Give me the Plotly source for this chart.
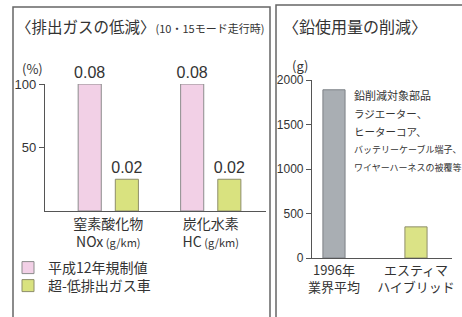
import plotly.graph_objects as go

W, H = 462, 317
FONT = "Noto Sans CJK JP"
TXT = "#333333"

# ---- data ----
gas_categories = ["窒素酸化物<br>NOx<span style=\"font-size:11px\"> (g/km)</span>",
                  "炭化水素<br>HC<span style=\"font-size:11px\"> (g/km)</span>"]
reg_pct = [100, 100]
reg_labels = ["0.08", "0.08"]
ulev_pct = [25, 25]
ulev_labels = ["0.02", "0.02"]
series_names = ["平成12年規制値", "超-低排出ガス車"]

lead_categories = ["1996年<br>業界平均", "エスティマ<br>ハイブリッド"]
lead_values = [1890, 350]

left_ticks = [50, 100]
right_ticks = [0, 500, 1000, 1500, 2000]


def px(x):
    return x / W


def py(y):
    return 1 - y / H


fig = go.Figure()
fig.add_trace(go.Bar(x=[0, 1], y=reg_pct, name=series_names[0], text=reg_labels,
                     textposition="outside", cliponaxis=False, constraintext="none",
                     textfont=dict(size=16, color=TXT, family="Liberation Sans"),
                     marker=dict(color="#f2d0e6", line=dict(color="#8c8c8c", width=1)),
                     xaxis="x", yaxis="y", legend="legend"))
fig.add_trace(go.Bar(x=[0, 1], y=ulev_pct, name=series_names[1], text=ulev_labels,
                     textposition="outside", cliponaxis=False, constraintext="none",
                     textfont=dict(size=16, color=TXT, family="Liberation Sans"),
                     marker=dict(color="#d9e27f", line=dict(color="#8e8e6a", width=1)),
                     xaxis="x", yaxis="y", legend="legend2"))
fig.add_trace(go.Bar(x=[0, 1], y=lead_values, showlegend=False, width=0.27,
                     marker=dict(color=["#a9aeb3", "#dbe386"],
                                 line=dict(color=["#7d8186", "#8e8e6a"], width=1)),
                     xaxis="x2", yaxis="y2"))

axis_common = dict(showgrid=False, zeroline=False, showline=True, linecolor="#555",
                   linewidth=1.2, automargin=False)
overlay_common = dict(showgrid=False, zeroline=False, showline=False, automargin=False,
                      showticklabels=False, ticks="inside", ticklen=4, tickcolor="#555",
                      tickwidth=1.2)
legend_common = dict(xanchor="left", yanchor="middle", font=dict(size=14, color=TXT),
                     itemwidth=30, bgcolor="rgba(0,0,0,0)")

fig.update_layout(
    width=W, height=H, margin=dict(l=0, r=0, t=0, b=0, autoexpand=False),
    paper_bgcolor="white", plot_bgcolor="rgba(0,0,0,0)",
    font=dict(family=FONT, color=TXT),
    barmode="group", bargap=0.275, bargroupgap=0.378,
    xaxis=dict(domain=[px(45), px(266)], range=[-0.6176, 1.539],
               tickvals=[0, 1], ticktext=gas_categories, ticks="",
               tickfont=dict(size=14, color=TXT), anchor="y", **axis_common),
    yaxis=dict(domain=[py(211), py(84)], range=[0, 100], tickvals=left_ticks,
               ticks="outside", ticklen=5, tickcolor="#555", tickwidth=1.2,
               tickfont=dict(size=13, color=TXT, family="Liberation Sans"),
               anchor="x", **axis_common),
    yaxis3=dict(domain=[py(211), py(84)], range=[0, 100], tickvals=left_ticks,
                anchor="x", overlaying="y", **overlay_common),
    xaxis2=dict(domain=[px(312), px(452)], range=[-0.268, 1.439],
                tickvals=[0, 1], ticktext=lead_categories, ticks="",
                tickfont=dict(size=13, color=TXT), anchor="y2", **axis_common),
    yaxis2=dict(domain=[py(258), py(80)], range=[0, 2000], tickvals=right_ticks,
                ticks="outside", ticklen=5, tickcolor="#555", tickwidth=1.2,
                tickfont=dict(size=12, color=TXT, family="Liberation Sans Narrow, Liberation Sans"),
                anchor="x2", **axis_common),
    yaxis4=dict(domain=[py(258), py(80)], range=[0, 2000], tickvals=right_ticks[1:],
                anchor="x2", overlaying="y2", **overlay_common),
    legend=dict(x=px(8), y=py(268), **legend_common),
    legend2=dict(x=px(8), y=py(286), **legend_common),
)

# panel borders
fig.add_shape(type="rect", xref="paper", yref="paper", x0=px(13), x1=px(270),
              y0=py(330), y1=py(7), line=dict(color="#666", width=1.5))
fig.add_shape(type="rect", xref="paper", yref="paper", x0=px(276), x1=px(480),
              y0=py(330), y1=py(5), line=dict(color="#666", width=1.5))

ann = [
    dict(x=px(14), y=py(26), text="〈排出ガスの低減〉<span style=\"font-size:11px\">(10・15モード走行時)</span>",
         size=15.5, xanchor="left"),
    dict(x=px(20), y=py(68), text="(%)", size=13, xanchor="left"),
    dict(x=px(281), y=py(26), text="〈鉛使用量の削減〉", size=16, xanchor="left"),
    dict(x=px(290), y=py(65), text="(g)", size=13, xanchor="left"),
    dict(x=px(352), y=py(95), text="鉛削減対象部品", size=11, xanchor="left"),
    dict(x=px(352), y=py(113), text="ラジエーター、", size=10.5, xanchor="left"),
    dict(x=px(352), y=py(131), text="ヒーターコア、", size=10.5, xanchor="left"),
    dict(x=px(352), y=py(149), text="バッテリーケーブル端子、", size=9, xanchor="left"),
    dict(x=px(352), y=py(167), text="ワイヤーハーネスの被覆等", size=9, xanchor="left"),
]
for a in ann:
    fig.add_annotation(x=a["x"], y=a["y"], xref="paper", yref="paper", text=a["text"],
                       showarrow=False, xanchor=a["xanchor"], yanchor="middle",
                       font=dict(size=a["size"], color=TXT, family=FONT))

fig.write_html("out.html", config={"displayModeBar": False},
               post_script="document.body.style.margin='0';")
